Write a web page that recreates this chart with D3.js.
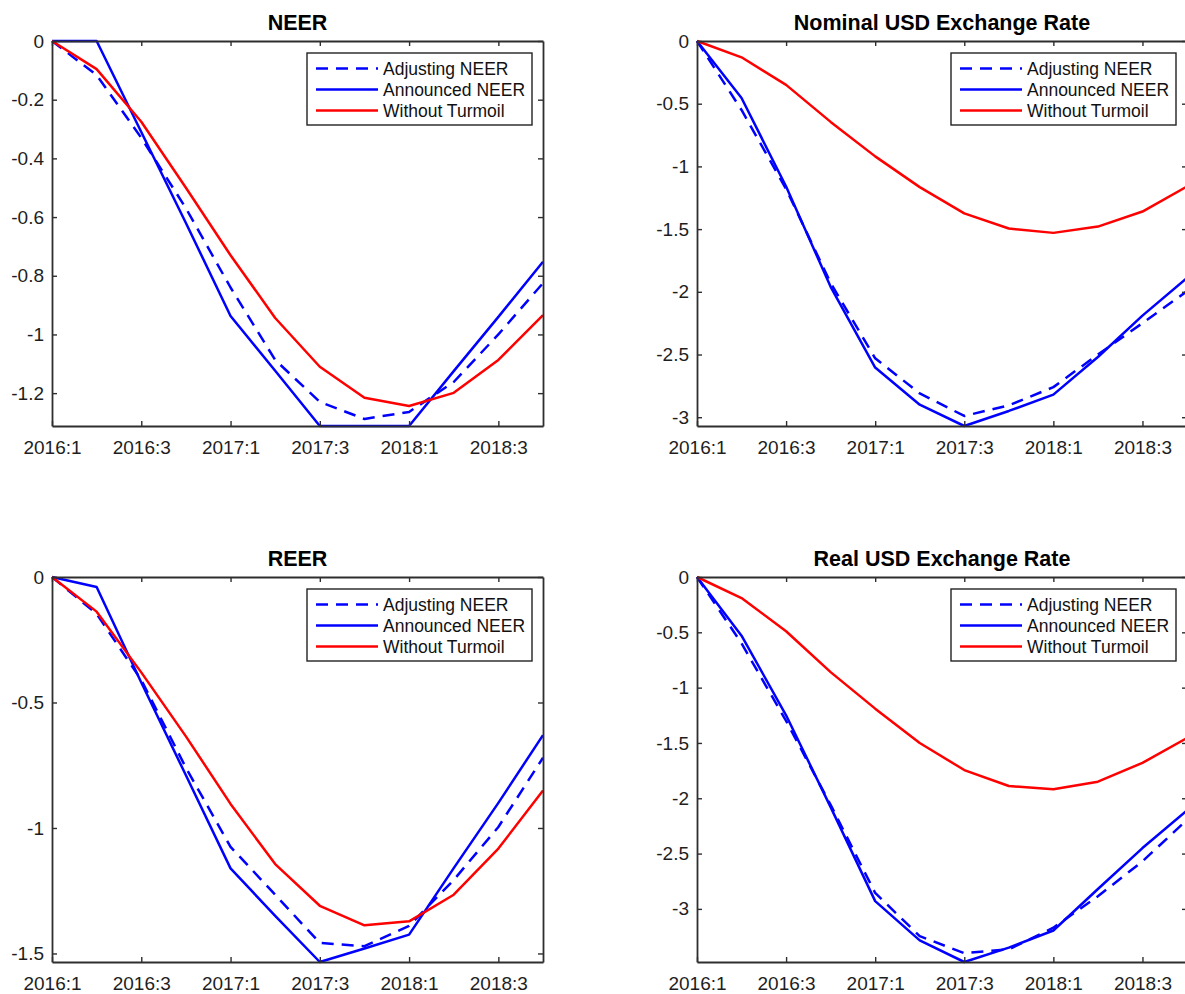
<!DOCTYPE html>
<html>
<head>
<meta charset="utf-8">
<script src="https://cdn.jsdelivr.net/npm/d3@7"></script>
<style>
  html, body { margin: 0; padding: 0; background: #ffffff; }
  svg { display: block; font-family: Arial, "Liberation Sans", sans-serif; }
</style>
</head>
<body>
<svg id="fig" width="1185" height="994"></svg>
<script>
// Quarterly horizon, 2016:1 to 2018:4
const quarters = ["2016:1","2016:2","2016:3","2016:4","2017:1","2017:2","2017:3","2017:4","2018:1","2018:2","2018:3","2018:4"];
const xTickIndex = [0, 2, 4, 6, 8, 10];
const seriesNames = ["Adjusting NEER", "Announced NEER", "Without Turmoil"];

// NEER
const neerAdjusting = [0, -0.116, -0.33, -0.57, -0.84, -1.087, -1.23, -1.288, -1.264, -1.162, -1.0, -0.825];
const neerAnnounced = [0, 0, -0.31, -0.62, -0.937, -1.124, -1.312, -1.312, -1.312, -1.125, -0.94, -0.752];
const neerWithout   = [0, -0.096, -0.275, -0.50, -0.73, -0.944, -1.11, -1.216, -1.244, -1.199, -1.087, -0.934];
const neerTicks = [0, -0.2, -0.4, -0.6, -0.8, -1, -1.2];

// Nominal USD exchange rate
const nominalAdjusting = [0, -0.55, -1.18, -1.93, -2.53, -2.81, -2.99, -2.905, -2.76, -2.5, -2.25, -1.995];
const nominalAnnounced = [0, -0.455, -1.16, -1.96, -2.604, -2.9, -3.07, -2.95, -2.82, -2.52, -2.19, -1.89];
const nominalWithout   = [0, -0.13, -0.35, -0.645, -0.92, -1.165, -1.375, -1.495, -1.53, -1.48, -1.36, -1.16];
const nominalTicks = [0, -0.5, -1, -1.5, -2, -2.5, -3];

// REER
const reerAdjusting = [0, -0.147, -0.41, -0.76, -1.075, -1.266, -1.458, -1.471, -1.39, -1.207, -0.996, -0.72];
const reerAnnounced = [0, -0.04, -0.42, -0.79, -1.161, -1.35, -1.534, -1.48, -1.425, -1.16, -0.9, -0.63];
const reerWithout   = [0, -0.138, -0.38, -0.635, -0.904, -1.144, -1.31, -1.388, -1.372, -1.266, -1.082, -0.851];
const reerTicks = [0, -0.5, -1, -1.5];

// Real USD exchange rate
const realAdjusting = [0, -0.6, -1.3, -2.06, -2.856, -3.246, -3.40, -3.366, -3.17, -2.886, -2.57, -2.195];
const realAnnounced = [0, -0.53, -1.25, -2.08, -2.93, -3.285, -3.48, -3.35, -3.195, -2.82, -2.45, -2.11];
const realWithout   = [0, -0.19, -0.49, -0.86, -1.19, -1.50, -1.745, -1.889, -1.919, -1.85, -1.68, -1.455];
const realTicks = [0, -0.5, -1, -1.5, -2, -2.5, -3];

const panels = [
  { title: "NEER", series: [neerAdjusting, neerAnnounced, neerWithout], ticks: neerTicks,
    box: { left: 52, right: 543, top: 41, bottom: 426 } },
  { title: "Nominal USD Exchange Rate", series: [nominalAdjusting, nominalAnnounced, nominalWithout], ticks: nominalTicks,
    box: { left: 697, right: 1187, top: 41, bottom: 426 } },
  { title: "REER", series: [reerAdjusting, reerAnnounced, reerWithout], ticks: reerTicks,
    box: { left: 52, right: 543, top: 577, bottom: 962 } },
  { title: "Real USD Exchange Rate", series: [realAdjusting, realAnnounced, realWithout], ticks: realTicks,
    box: { left: 697, right: 1187, top: 577, bottom: 962 } }
];

const styles = [
  { color: "#0000ff", dash: "12,8" },
  { color: "#0000ff", dash: null },
  { color: "#ff0000", dash: null }
];

const axisColor = "#2e2e2e";
const textColor = "#1e1e1e";
const svg = d3.select("#fig");

panels.forEach((p, pi) => {
  const b = p.box;
  const w = b.right - b.left, h = b.bottom - b.top;
  const ymin = d3.min(p.series, s => d3.min(s));
  const x = d3.scaleLinear().domain([0, quarters.length - 1]).range([0, w]);
  const y = d3.scaleLinear().domain([ymin, 0]).range([h, 0]);

  const g = svg.append("g").attr("transform", `translate(${b.left},${b.top})`);

  g.append("defs").append("clipPath").attr("id", "clip" + pi)
    .append("rect").attr("x", -2).attr("y", -2).attr("width", w + 4).attr("height", h + 4);

  // data lines
  const line = d3.line().x((d, i) => x(i)).y(d => y(d));
  const plot = g.append("g").attr("clip-path", `url(#clip${pi})`);
  p.series.forEach((s, si) => {
    plot.append("path").datum(s)
      .attr("d", line)
      .attr("fill", "none")
      .attr("stroke", styles[si].color)
      .attr("stroke-width", 2.5)
      .attr("stroke-linejoin", "round")
      .attr("stroke-dasharray", styles[si].dash);
  });

  // axes (box with inward ticks)
  const styleAxis = sel => {
    sel.select(".domain").attr("stroke", axisColor).attr("stroke-width", 1.8);
    sel.selectAll(".tick line").attr("stroke", axisColor).attr("stroke-width", 1.4);
    sel.selectAll(".tick text").attr("fill", textColor).style("font-size", "19px")
      .style("font-family", "Arial, 'Liberation Sans', sans-serif");
  };

  g.append("g").attr("transform", `translate(0,${h})`)
    .call(d3.axisBottom(x).tickValues(xTickIndex).tickFormat(i => quarters[i])
      .tickSizeInner(-5).tickSizeOuter(0).tickPadding(14.5))
    .call(styleAxis);
  g.append("g")
    .call(d3.axisTop(x).tickValues(xTickIndex).tickFormat("")
      .tickSizeInner(-5).tickSizeOuter(0))
    .call(styleAxis);
  g.append("g")
    .call(d3.axisLeft(y).tickValues(p.ticks).tickFormat(v => String(v))
      .tickSizeInner(-5).tickSizeOuter(0).tickPadding(8))
    .call(styleAxis);
  g.append("g").attr("transform", `translate(${w},0)`)
    .call(d3.axisRight(y).tickValues(p.ticks).tickFormat("")
      .tickSizeInner(-5).tickSizeOuter(0))
    .call(styleAxis);

  // title
  g.append("text")
    .attr("x", w / 2).attr("y", -11)
    .attr("text-anchor", "middle")
    .attr("fill", "#000")
    .style("font-size", "21.5px").style("font-weight", "bold")
    .text(p.title);

  // legend
  const lgW = 225, lgH = 72;
  const lg = g.append("g").attr("transform", `translate(${w - 11 - lgW},12)`);
  lg.append("rect").attr("width", lgW).attr("height", lgH)
    .attr("fill", "#fff").attr("stroke", "#222").attr("stroke-width", 1.4);
  seriesNames.forEach((name, si) => {
    const ry = 15.5 + si * 21;
    lg.append("line").attr("x1", 9).attr("x2", 71).attr("y1", ry).attr("y2", ry)
      .attr("stroke", styles[si].color).attr("stroke-width", 2.5)
      .attr("stroke-dasharray", styles[si].dash);
    lg.append("text").attr("x", 76).attr("y", ry).attr("dy", "0.35em")
      .attr("fill", "#111").style("font-size", "17.5px").text(name);
  });
});
</script>
</body>
</html>
